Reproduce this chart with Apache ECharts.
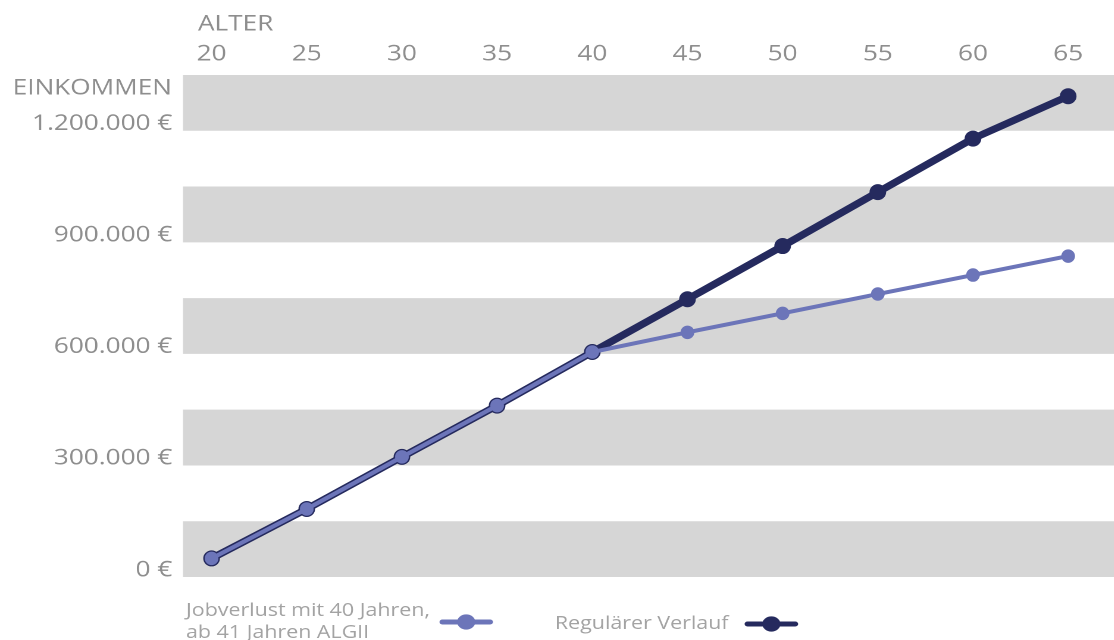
<!DOCTYPE html>
<html>
<head>
<meta charset="utf-8">
<script src="https://cdn.jsdelivr.net/npm/echarts@6/dist/echarts.min.js"></script>
<style>
html,body{margin:0;padding:0;background:#fff;overflow:hidden;}
#wrap{width:1114px;height:640px;overflow:hidden;}
#c{width:936px;height:640px;transform:scaleX(1.19);transform-origin:0 0;}
</style>
</head>
<body>
<div id="wrap"><div id="c"></div></div>
<script>
const ages = [20, 25, 30, 35, 40, 45, 50, 55, 60, 65];
const regularValues = [50000, 183000, 323000, 461000, 605000, 747000, 890000, 1035000, 1179000, 1293000];
const jobLossValues = [50000, 183000, 323000, 461000, 605000, 658000, 709000, 761000, 812000, 863000];
const yLabelValues = [0, 300000, 600000, 900000, 1200000];
const seriesNames = ['Jobverlust mit 40 Jahren,\nab 41 Jahren ALGII', 'Regulärer Verlauf'];

const navy = '#252a5e';
const purple = '#6c75b9';
const grey = '#8e8e8e';
const legendGrey = '#a3a3a3';
const font = 'Open Sans';

function fmtEuro(v) {
  return String(v).replace(/\B(?=(\d{3})+(?!\d))/g, '.') + ' €';
}

const chart = echarts.init(document.getElementById('c'), null, { devicePixelRatio: 2 });
chart.setOption({
  animation: false,
  backgroundColor: '#fff',
  grid: { left: 153.8, right: 0, top: 75, bottom: 63 },
  xAxis: {
    type: 'value', position: 'top', min: 18.5, max: 67.4,
    axisLine: { show: false }, axisTick: { show: false }, splitLine: { show: false },
    axisLabel: { customValues: ages, color: grey, fontFamily: font, fontSize: 22, margin: 10 }
  },
  yAxis: {
    type: 'value', min: 0, max: 1350000, interval: 150000,
    axisLine: { show: false }, axisTick: { show: false }, splitLine: { show: false },
    splitArea: { show: true, areaStyle: { color: ['#d6d6d6', 'rgba(255,255,255,0)'] } },
    axisLabel: {
      color: grey, fontFamily: font, fontSize: 22, margin: 9,
      verticalAlign: 'bottom', lineHeight: 14,
      formatter: v => yLabelValues.indexOf(v) >= 0 ? fmtEuro(v) : ''
    }
  },
  graphic: [
    { type: 'text', left: 166.4, top: 13, style: { text: 'ALTER', fill: grey, font: '22px "Open Sans"' } },
    { type: 'text', right: 936 - 144.5, top: 77, style: { text: 'EINKOMMEN', fill: grey, font: '22px "Open Sans"' } }
  ],
  legend: [
    {
      data: [seriesNames[0]], left: 151.3, top: 595, align: 'right',
      itemWidth: 40, itemHeight: 19,
      lineStyle: { width: 5, cap: 'round' },
      formatter: name => name.split('\n').map(s => '{l|' + s + '}').join('\n'),
      textStyle: {
        color: legendGrey, fontFamily: font, fontSize: 18, lineHeight: 22, padding: [0, 5.5, 0, 0],
        rich: { l: { color: legendGrey, fontFamily: font, fontSize: 18, lineHeight: 22, align: 'left' } }
      }
    },
    {
      data: [seriesNames[1]], left: 461.3, top: 610, align: 'right',
      itemWidth: 40, itemHeight: 19,
      lineStyle: { width: 5, cap: 'round' },
      textStyle: { color: legendGrey, fontFamily: font, fontSize: 18, padding: [0, 11, 0, 0] }
    }
  ],
  series: [
    {
      name: seriesNames[1], type: 'line',
      data: ages.map((a, i) => [a, regularValues[i]]),
      symbol: 'circle', symbolSize: [14, 16],
      lineStyle: { color: navy, width: 7 },
      itemStyle: { color: navy },
      z: 2
    },
    {
      name: seriesNames[0], type: 'line',
      data: ages.map((a, i) => [a, jobLossValues[i]]),
      symbol: 'circle', symbolSize: [11.5, 13.5],
      lineStyle: { color: purple, width: 4 },
      itemStyle: { color: purple },
      z: 3
    }
  ]
});
</script>
</body>
</html>
